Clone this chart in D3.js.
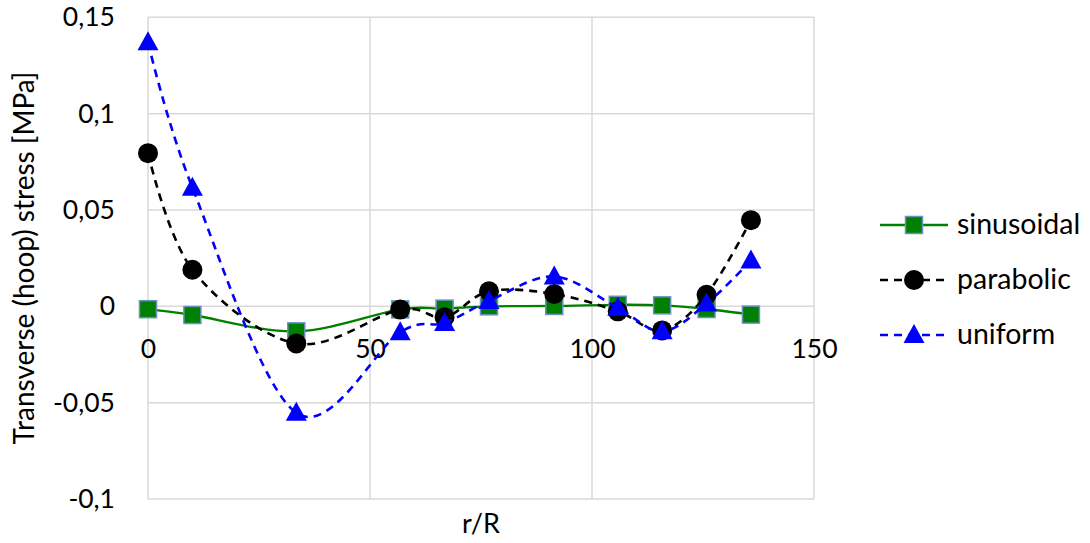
<!DOCTYPE html>
<html>
<head>
<meta charset="utf-8">
<script src="https://cdn.jsdelivr.net/npm/d3@7"></script>
<style>
  html, body { margin: 0; padding: 0; background: #fff; }
  svg text { font-family: Lato, "Open Sans", sans-serif; fill: #000; }
</style>
</head>
<body>
<svg id="chart" width="1090" height="543"></svg>
<script>
// ---- data ----
const rR = [0, 10, 33.4, 56.8, 66.8, 76.8, 91.5, 105.8, 115.8, 125.8, 135.8];
const sinusoidal = [-0.0015, -0.0045, -0.013, -0.0016, -0.0012, 0.0, 0.0002, 0.0008, 0.0005, -0.0014, -0.0043];
const parabolic  = [0.0795, 0.019, -0.0193, -0.0017, -0.0057, 0.0078, 0.0064, -0.0026, -0.0125, 0.006, 0.0447];
const uniform    = [0.137, 0.0616, -0.0553, -0.0135, -0.0086, 0.0028, 0.0155, -0.0008, -0.013, 0.0014, 0.0238];
const seriesNames = ["sinusoidal", "parabolic", "uniform"];
const xTicks = [0, 50, 100, 150];
const yTicks = [0.15, 0.1, 0.05, 0, -0.05, -0.1];
const xTitle = "r/R";
const yTitle = "Transverse (hoop) stress [MPa]";

const svg = d3.select("#chart");
const x = d3.scaleLinear().domain([0, 150]).range([148, 814]);
const y = d3.scaleLinear().domain([-0.1, 0.15]).range([499, 17.3]);
const fmt = v => String(v).replace(".", ",");

// gridlines
const grid = svg.append("g");
grid.selectAll(".gx").data(xTicks).join("line")
  .attr("x1", d => x(d)).attr("x2", d => x(d))
  .attr("y1", y(0.15)).attr("y2", y(-0.1))
  .attr("stroke", "#d9d9d9").attr("stroke-width", 1.5);
grid.selectAll(".gy").data(yTicks).join("line")
  .attr("x1", x(0)).attr("x2", x(150))
  .attr("y1", d => y(d)).attr("y2", d => y(d))
  .attr("stroke", "#d9d9d9").attr("stroke-width", 1.5);

// axes (labels only)
const yAxis = d3.axisLeft(y).tickValues(yTicks).tickFormat(fmt).tickSize(0).tickPadding(33);
const gy = svg.append("g").attr("transform", `translate(${x(0)},0)`).call(yAxis);
gy.select(".domain").remove();
gy.selectAll("text").attr("font-size", 26.5).attr("font-family", "Lato, sans-serif");

const xAxis = d3.axisBottom(x).tickValues(xTicks).tickFormat(fmt).tickSize(0).tickPadding(0);
const gx = svg.append("g").attr("transform", `translate(0,${y(0)})`).call(xAxis);
gx.select(".domain").remove();
gx.selectAll("text").attr("font-size", 26.5).attr("font-family", "Lato, sans-serif")
  .attr("dy", null).attr("y", 52);

// titles
svg.append("text").attr("x", 481).attr("y", 533).attr("text-anchor", "middle")
  .attr("font-size", 27).text(xTitle);
svg.append("text").attr("transform", "translate(34,258) rotate(-90)")
  .attr("text-anchor", "middle").attr("font-size", 28).text(yTitle);

// series
const styles = {
  sinusoidal: { color: "#008000", dash: null, width: 2.3, marker: "square" },
  parabolic:  { color: "#000000", dash: "8,6", width: 2.6, marker: "circle" },
  uniform:    { color: "#0000ff", dash: "8,6", width: 2.6, marker: "triangle" }
};
const values = { sinusoidal, parabolic, uniform };
const line = d3.line().x(d => x(d[0])).y(d => y(d[1])).curve(d3.curveCatmullRom.alpha(0));

function drawMarker(g, type, cx, cy) {
  if (type === "square") {
    g.append("rect").attr("x", cx - 8.5).attr("y", cy - 8.5).attr("width", 17).attr("height", 17)
      .attr("fill", "#008000").attr("stroke", "#6a8fc0").attr("stroke-width", 1.5);
  } else if (type === "circle") {
    g.append("circle").attr("cx", cx).attr("cy", cy).attr("r", 10).attr("fill", "#000");
  } else {
    g.append("path").attr("d", `M${cx},${cy - 11}L${cx + 10.5},${cy + 8}L${cx - 10.5},${cy + 8}Z`)
      .attr("fill", "#0000ff");
  }
}

seriesNames.forEach(name => {
  const st = styles[name];
  const pts = rR.map((r, i) => [r, values[name][i]]);
  const g = svg.append("g");
  g.append("path").attr("d", line(pts)).attr("fill", "none")
    .attr("stroke", st.color).attr("stroke-width", st.width)
    .attr("stroke-dasharray", st.dash);
  pts.forEach(p => drawMarker(g, st.marker, x(p[0]), y(p[1])));
});

// legend
const legY = [225, 280, 335];
seriesNames.forEach((name, i) => {
  const st = styles[name];
  const g = svg.append("g");
  g.append("line").attr("x1", 880).attr("x2", 948).attr("y1", legY[i]).attr("y2", legY[i])
    .attr("stroke", st.color).attr("stroke-width", st.width).attr("stroke-dasharray", st.dash);
  drawMarker(g, st.marker, 914, legY[i]);
  g.append("text").attr("x", 957).attr("y", legY[i] + 9).attr("font-size", 28.5).text(name);
});
</script>
</body>
</html>
